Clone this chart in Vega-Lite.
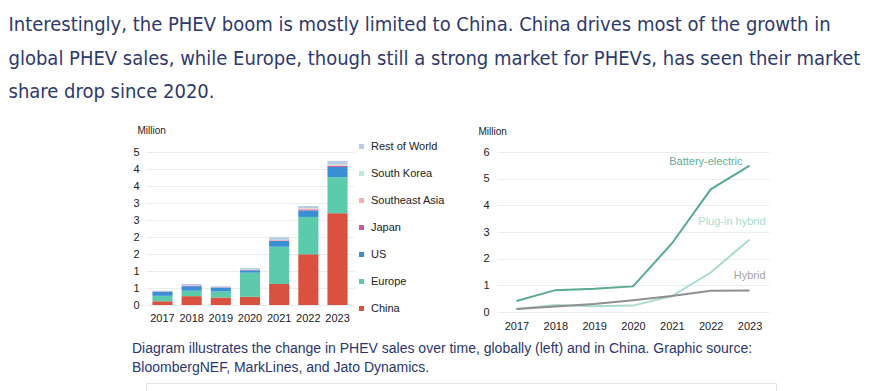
{
  "$schema": "https://vega.github.io/schema/vega-lite/v6.json",
  "background": "white",
  "padding": {"left": 8, "top": 15, "right": 5, "bottom": 4},
  "title": {
    "text": [
      "Interestingly, the PHEV boom is mostly limited to China. China drives most of the growth in",
      "global PHEV sales, while Europe, though still a strong market for PHEVs, has seen their market",
      "share drop since 2020."
    ],
    "anchor": "start",
    "dx": -123,
    "font": "Liberation Sans Narrow, DejaVu Sans Condensed, Roboto",
    "fontSize": 20,
    "fontWeight": "normal",
    "color": "#2e3a6e",
    "lineHeight": 33.5,
    "offset": 23
  },
  "datasets": {
    "global": [
      {"year": "2017", "region": "China", "sales": 0.11},
      {"year": "2017", "region": "Europe", "sales": 0.16},
      {"year": "2017", "region": "US", "sales": 0.12},
      {"year": "2017", "region": "Japan", "sales": 0.01},
      {"year": "2017", "region": "Southeast Asia", "sales": 0.0},
      {"year": "2017", "region": "South Korea", "sales": 0.0},
      {"year": "2017", "region": "Rest of World", "sales": 0.02},
      {"year": "2018", "region": "China", "sales": 0.26},
      {"year": "2018", "region": "Europe", "sales": 0.16},
      {"year": "2018", "region": "US", "sales": 0.13},
      {"year": "2018", "region": "Japan", "sales": 0.02},
      {"year": "2018", "region": "Southeast Asia", "sales": 0.0},
      {"year": "2018", "region": "South Korea", "sales": 0.0},
      {"year": "2018", "region": "Rest of World", "sales": 0.05},
      {"year": "2019", "region": "China", "sales": 0.22},
      {"year": "2019", "region": "Europe", "sales": 0.18},
      {"year": "2019", "region": "US", "sales": 0.11},
      {"year": "2019", "region": "Japan", "sales": 0.01},
      {"year": "2019", "region": "Southeast Asia", "sales": 0.0},
      {"year": "2019", "region": "South Korea", "sales": 0.0},
      {"year": "2019", "region": "Rest of World", "sales": 0.03},
      {"year": "2020", "region": "China", "sales": 0.24},
      {"year": "2020", "region": "Europe", "sales": 0.71},
      {"year": "2020", "region": "US", "sales": 0.07},
      {"year": "2020", "region": "Japan", "sales": 0.01},
      {"year": "2020", "region": "Southeast Asia", "sales": 0.0},
      {"year": "2020", "region": "South Korea", "sales": 0.01},
      {"year": "2020", "region": "Rest of World", "sales": 0.05},
      {"year": "2021", "region": "China", "sales": 0.62},
      {"year": "2021", "region": "Europe", "sales": 1.09},
      {"year": "2021", "region": "US", "sales": 0.17},
      {"year": "2021", "region": "Japan", "sales": 0.02},
      {"year": "2021", "region": "Southeast Asia", "sales": 0.01},
      {"year": "2021", "region": "South Korea", "sales": 0.01},
      {"year": "2021", "region": "Rest of World", "sales": 0.07},
      {"year": "2022", "region": "China", "sales": 1.49},
      {"year": "2022", "region": "Europe", "sales": 1.10},
      {"year": "2022", "region": "US", "sales": 0.19},
      {"year": "2022", "region": "Japan", "sales": 0.03},
      {"year": "2022", "region": "Southeast Asia", "sales": 0.03},
      {"year": "2022", "region": "South Korea", "sales": 0.01},
      {"year": "2022", "region": "Rest of World", "sales": 0.06},
      {"year": "2023", "region": "China", "sales": 2.70},
      {"year": "2023", "region": "Europe", "sales": 1.06},
      {"year": "2023", "region": "US", "sales": 0.30},
      {"year": "2023", "region": "Japan", "sales": 0.03},
      {"year": "2023", "region": "Southeast Asia", "sales": 0.02},
      {"year": "2023", "region": "South Korea", "sales": 0.02},
      {"year": "2023", "region": "Rest of World", "sales": 0.11}
    ],
    "china": [
      {"year": "2017", "type": "Battery-electric", "sales": 0.41},
      {"year": "2018", "type": "Battery-electric", "sales": 0.82},
      {"year": "2019", "type": "Battery-electric", "sales": 0.87},
      {"year": "2020", "type": "Battery-electric", "sales": 0.96},
      {"year": "2021", "type": "Battery-electric", "sales": 2.57},
      {"year": "2022", "type": "Battery-electric", "sales": 4.6},
      {"year": "2023", "type": "Battery-electric", "sales": 5.49},
      {"year": "2017", "type": "Plug-in hybrid", "sales": 0.11},
      {"year": "2018", "type": "Plug-in hybrid", "sales": 0.26},
      {"year": "2019", "type": "Plug-in hybrid", "sales": 0.22},
      {"year": "2020", "type": "Plug-in hybrid", "sales": 0.24},
      {"year": "2021", "type": "Plug-in hybrid", "sales": 0.6},
      {"year": "2022", "type": "Plug-in hybrid", "sales": 1.48},
      {"year": "2023", "type": "Plug-in hybrid", "sales": 2.72},
      {"year": "2017", "type": "Hybrid", "sales": 0.11},
      {"year": "2018", "type": "Hybrid", "sales": 0.21},
      {"year": "2019", "type": "Hybrid", "sales": 0.3},
      {"year": "2020", "type": "Hybrid", "sales": 0.44},
      {"year": "2021", "type": "Hybrid", "sales": 0.6},
      {"year": "2022", "type": "Hybrid", "sales": 0.8},
      {"year": "2023", "type": "Hybrid", "sales": 0.81}
    ]
  },
  "spacing": 10,
  "resolve": {"scale": {"color": "independent"}, "legend": {"color": "independent"}},
  "vconcat": [
    {
      "spacing": 33,
      "resolve": {"scale": {"color": "independent"}, "legend": {"color": "independent"}},
      "hconcat": [
        {
          "width": 208,
          "height": 153,
          "data": {"name": "global"},
          "transform": [
            {"calculate": "indexof(['China', 'Europe', 'US', 'Japan', 'Southeast Asia', 'South Korea', 'Rest of World'], datum.region)", "as": "stackOrder"}
          ],
          "mark": {"type": "bar"},
          "encoding": {
            "x": {
              "field": "year",
              "type": "ordinal",
              "scale": {"paddingInner": 0.31, "paddingOuter": 0.22},
              "axis": {"title": null, "labelAngle": 0, "labelPadding": 7, "grid": false}
            },
            "y": {
              "field": "sales",
              "type": "quantitative",
              "stack": "zero",
              "scale": {"domain": [0, 4.5], "nice": false},
              "axis": {
                "values": [0, 0.5, 1, 1.5, 2, 2.5, 3, 3.5, 4, 4.5],
                "format": ".0f",
                "title": "Million",
                "titleAngle": 0,
                "titleAlign": "left",
                "titleBaseline": "middle",
                "titleX": -9,
                "titleY": -22,
                "labelPadding": 7
              }
            },
            "order": {"field": "stackOrder", "type": "quantitative", "sort": "ascending"},
            "color": {
              "field": "region",
              "type": "nominal",
              "sort": ["Rest of World", "South Korea", "Southeast Asia", "Japan", "US", "Europe", "China"],
              "scale": {"range": ["#b5cce3", "#bfe9de", "#f2b1ae", "#c95b9e", "#3a8fd4", "#5ccbab", "#d9513f"]},
              "legend": {
                "title": null,
                "orient": "none",
                "legendX": 210,
                "legendY": -11,
                "symbolType": "square",
                "symbolSize": 25,
                "symbolStrokeWidth": 0,
                "labelFontSize": 11,
                "labelColor": "#222",
                "labelOffset": 4,
                "rowPadding": 15
              }
            }
          }
        },
        {
          "width": 272,
          "height": 160,
          "data": {"name": "china"},
          "encoding": {
            "x": {
              "field": "year",
              "type": "ordinal",
              "scale": {"type": "point", "padding": 0.5},
              "axis": {"title": null, "labelAngle": 0, "labelPadding": 8, "grid": false}
            },
            "y": {
              "field": "sales",
              "type": "quantitative",
              "scale": {"domain": [0, 6], "nice": false},
              "axis": {
                "values": [0, 1, 2, 3, 4, 5, 6],
                "title": "Million",
                "titleAngle": 0,
                "titleAlign": "left",
                "titleBaseline": "middle",
                "titleX": -19,
                "titleY": -21,
                "labelPadding": 8
              }
            }
          },
          "layer": [
            {
              "mark": {"type": "line", "strokeWidth": 2},
              "encoding": {
                "color": {
                  "field": "type",
                  "type": "nominal",
                  "sort": ["Plug-in hybrid", "Hybrid", "Battery-electric"],
                  "scale": {"range": ["#a9dccf", "#8f8f8f", "#59aa93"]},
                  "legend": null
                }
              }
            },
            {
              "transform": [{"filter": "datum.year == '2023' && datum.type == 'Battery-electric'"}],
              "mark": {"type": "text", "align": "right", "baseline": "middle", "dx": -7, "dy": -4, "fontSize": 11, "color": "#5fae98"},
              "encoding": {"text": {"field": "type"}}
            },
            {
              "transform": [{"filter": "datum.year == '2023' && datum.type == 'Plug-in hybrid'"}],
              "mark": {"type": "text", "align": "right", "baseline": "middle", "dx": 16, "dy": -17, "fontSize": 11, "color": "#a9dccf"},
              "encoding": {"text": {"field": "type"}}
            },
            {
              "transform": [{"filter": "datum.year == '2023' && datum.type == 'Hybrid'"}],
              "mark": {"type": "text", "align": "right", "baseline": "middle", "dx": 16, "dy": -14, "fontSize": 11, "color": "#a3a3a3"},
              "encoding": {"text": {"field": "type"}}
            }
          ]
        }
      ]
    },
    {
      "width": 630,
      "height": 0,
      "data": {"values": []},
      "mark": "point",
      "view": {"stroke": "#e3e3e3", "strokeWidth": 1},
      "title": {
        "text": [
          "Diagram illustrates the change in PHEV sales over time, globally (left) and in China. Graphic source:",
          "BloombergNEF, MarkLines, and Jato Dynamics."
        ],
        "anchor": "start",
        "dx": -14,
        "font": "Liberation Sans",
        "fontSize": 14,
        "fontWeight": "normal",
        "color": "#2b3670",
        "lineHeight": 19.5,
        "offset": 8
      }
    }
  ],
  "config": {
    "font": "Liberation Sans",
    "view": {"stroke": null},
    "axis": {
      "labelFont": "Liberation Sans",
      "labelFontSize": 11,
      "labelColor": "#222",
      "titleFont": "Liberation Sans",
      "titleFontSize": 10,
      "titleFontWeight": "normal",
      "titleColor": "#222",
      "domain": false,
      "ticks": false,
      "gridColor": "#ececec",
      "gridWidth": 1
    },
    "legend": {"labelFont": "Liberation Sans"}
  }
}
